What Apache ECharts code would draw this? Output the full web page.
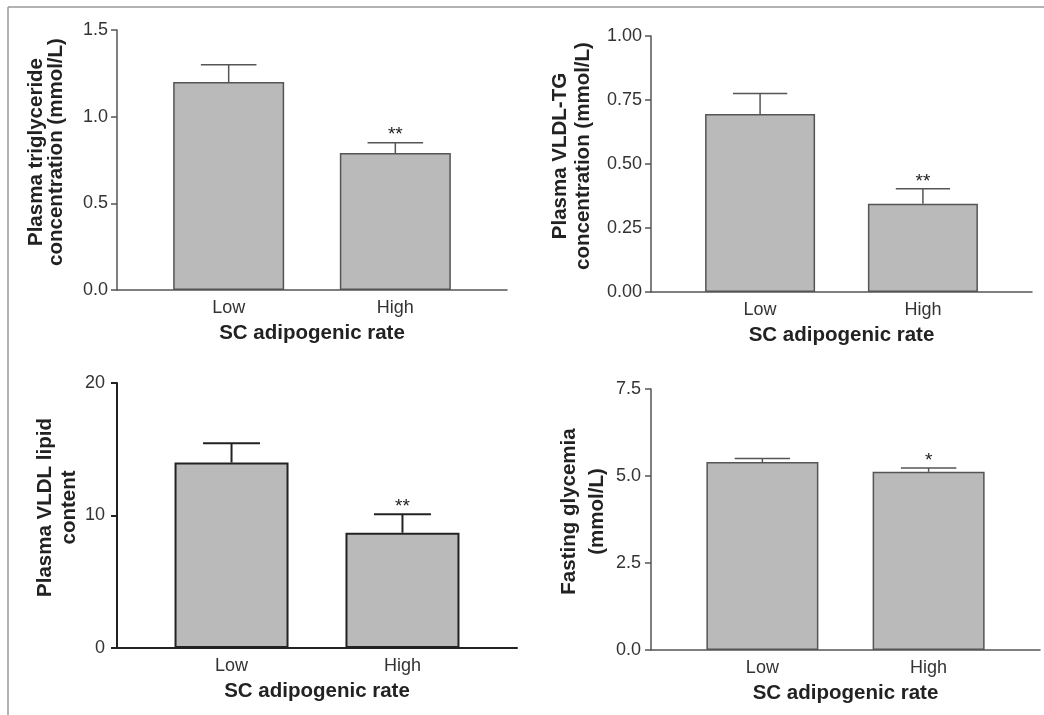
<!DOCTYPE html>
<html>
<head>
<meta charset="utf-8">
<script src="https://cdn.jsdelivr.net/npm/echarts@6/dist/echarts.min.js"></script>
<style>
  html, body { margin: 0; padding: 0; background: #fff; }
  #main { width: 1044px; height: 715px; }
</style>
</head>
<body>
<div id="main"></div>
<script>
// groups on the x axis
var categories = ['Low', 'High'];
var xName = 'SC adipogenic rate';

// plasma triglyceride (mmol/L)
var tgMean = [1.20, 0.79];
var tgErr = [0.10, 0.06];
var tgSig = ['', '**'];

// plasma VLDL-TG (mmol/L)
var vldlTgMean = [0.695, 0.345];
var vldlTgErr = [0.08, 0.058];
var vldlTgSig = ['', '**'];

// plasma VLDL lipid content
var lipidMean = [14.0, 8.7];
var lipidErr = [1.45, 1.4];
var lipidSig = ['', '**'];

// fasting glycemia (mmol/L)
var glyMean = [5.40, 5.12];
var glyErr = [0.10, 0.11];
var glySig = ['', '*'];

// y axes: max, interval, decimals
var yMax = [1.5, 1.0, 20, 7.5];
var yStep = [0.5, 0.25, 10, 2.5];
var yDec = [1, 2, 0, 1];
var yNames = [
    'Plasma triglyceride\nconcentration (mmol/L)',
    'Plasma VLDL-TG\nconcentration (mmol/L)',
    'Plasma VLDL lipid\ncontent',
    'Fasting glycemia\n(mmol/L)'
];

var panels = [
    {mean: tgMean, err: tgErr, sig: tgSig},
    {mean: vldlTgMean, err: vldlTgErr, sig: vldlTgSig},
    {mean: lipidMean, err: lipidErr, sig: lipidSig},
    {mean: glyMean, err: glyErr, sig: glySig}
];

// layout of each panel (pixels)
var layout = [
    {left: 117, top: 30, width: 390, height: 260, barW: 111, nameGap: 51, lh: 20, lab: 9, border: '#555', bw: 1.5},
    {left: 651, top: 36, width: 381, height: 256, barW: 110, nameGap: 56, lh: 23, lab: 9, border: '#555', bw: 1.5},
    {left: 117, top: 383, width: 400, height: 265, barW: 114, nameGap: 34, lh: 24, lab: 12, border: '#222', bw: 2},
    {left: 651, top: 389, width: 389, height: 261, barW: 112, nameGap: 40, lh: 28, lab: 10, border: '#555', bw: 1.5}
];

var dom = document.getElementById('main');
var myChart = echarts.init(dom);

var font = '"Liberation Sans", Arial, sans-serif';
var grids = [], xAxes = [], yAxes = [], series = [];

layout.forEach(function (L, i) {
    var p = panels[i];
    grids.push({left: L.left, top: L.top, width: L.width, height: L.height});
    xAxes.push({
        type: 'value',
        gridIndex: i,
        min: 0.33,
        max: 2.67,
        splitLine: {show: false},
        axisTick: {show: false},
        axisLine: {show: true, lineStyle: {color: L.border, width: L.bw}},
        axisLabel: {
            customValues: [1, 2],
            margin: 9,
            color: '#333',
            fontSize: 18,
            fontFamily: font,
            formatter: function (v) { return categories[Math.round(v) - 1]; }
        },
        name: xName,
        nameLocation: 'middle',
        nameGap: 33,
        nameTextStyle: {color: '#222', fontSize: 20.5, fontWeight: 'bold', fontFamily: font}
    });
    yAxes.push({
        type: 'value',
        gridIndex: i,
        min: 0,
        max: yMax[i],
        interval: yStep[i],
        splitLine: {show: false},
        axisLine: {show: true, lineStyle: {color: L.border, width: L.bw}},
        axisTick: {show: true, length: 6, lineStyle: {color: L.border, width: L.bw}},
        axisLabel: {
            margin: L.lab,
            color: '#333',
            fontSize: 18,
            fontFamily: font,
            formatter: function (v) { return v.toFixed(yDec[i]); }
        },
        name: yNames[i],
        nameLocation: 'middle',
        nameGap: L.nameGap,
        nameTextStyle: {
            color: '#222', fontSize: 20.5, fontWeight: 'bold', fontFamily: font,
            lineHeight: L.lh, padding: [0, 0, 0, 16]
        }
    });
    series.push({
        type: 'bar',
        xAxisIndex: i,
        yAxisIndex: i,
        barWidth: L.barW,
        itemStyle: {color: '#bababa', borderColor: L.border, borderWidth: L.bw},
        data: p.mean.map(function (m, k) { return [k + 1, m]; }),
        z: 2
    });
    // error bars + significance marks
    series.push({
        type: 'custom',
        xAxisIndex: i,
        yAxisIndex: i,
        z: 3,
        data: p.mean.map(function (m, k) { return [k + 1, m, m + p.err[k], p.sig[k]]; }),
        renderItem: function (params, api) {
            var x = api.value(0);
            var base = api.coord([x, api.value(1)]);
            var top = api.coord([x, api.value(2)]);
            var half = api.size([1 / 3, 0])[0] / 2;
            var st = {stroke: L.border, lineWidth: L.bw};
            var kids = [
                {type: 'line', shape: {x1: base[0], y1: base[1], x2: top[0], y2: top[1]}, style: st},
                {type: 'line', shape: {x1: top[0] - half, y1: top[1], x2: top[0] + half, y2: top[1]}, style: st}
            ];
            var s = p.sig[params.dataIndex];
            if (s) {
                kids.push({
                    type: 'text',
                    style: {
                        text: s, x: top[0], y: top[1] + 2,
                        align: 'center', verticalAlign: 'bottom',
                        fontSize: 19, fontFamily: font, fill: '#222'
                    }
                });
            }
            return {type: 'group', children: kids};
        }
    });
});

var option = {
    backgroundColor: '#fff',
    animation: false,
    grid: grids,
    xAxis: xAxes,
    yAxis: yAxes,
    series: series,
    graphic: [
        // picture frame, top and left edges
        {type: 'line', shape: {x1: 8, y1: 7, x2: 1044, y2: 7}, style: {stroke: '#999', lineWidth: 1.5}},
        {type: 'line', shape: {x1: 8, y1: 7, x2: 8, y2: 715}, style: {stroke: '#999', lineWidth: 1.5}}
    ]
};

myChart.setOption(option);
window.onresize = myChart.resize;
</script>
</body>
</html>
